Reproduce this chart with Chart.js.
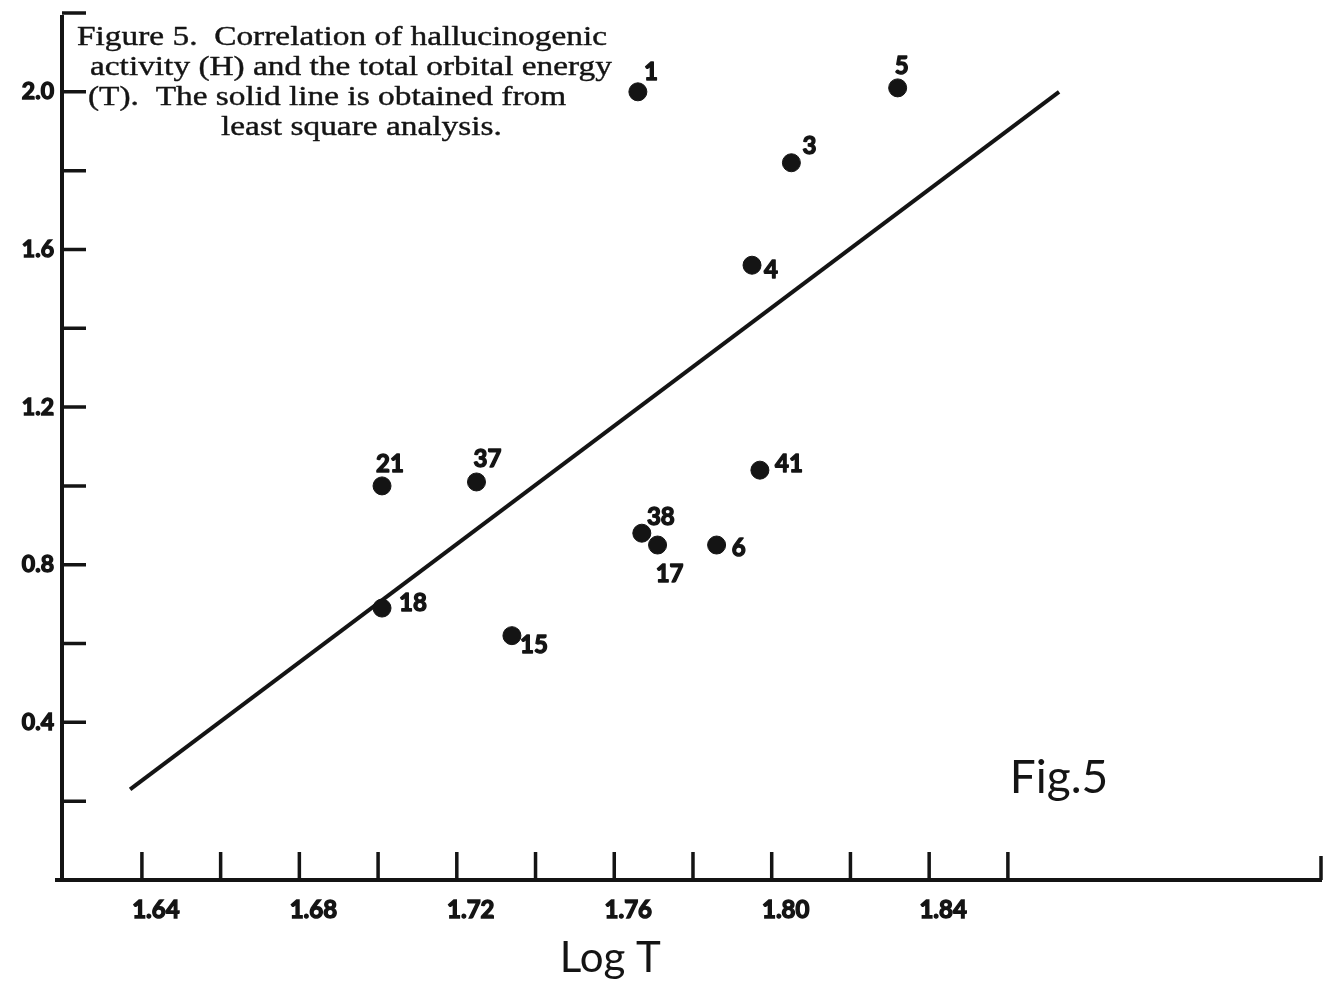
<!DOCTYPE html>
<html>
<head>
<meta charset="utf-8">
<title>Figure 5 - hallucinogenic activity vs. total orbital energy</title>
<script src="https://cdn.jsdelivr.net/npm/chart.js@4.4.1/dist/chart.umd.min.js"></script>
<style>
  html, body { margin: 0; padding: 0; background: #fff; }
  #wrap { width: 1332px; height: 989px; }
</style>
</head>
<body>
<div id="wrap"><canvas id="fig5" width="1332" height="989"></canvas></div>
<script>
// compound numbers with log T and activity H
const compounds = ['1', '5', '3', '4', '41', '21', '37', '38', '17', '6', '18', '15'];
const logT      = [1.766, 1.832, 1.805, 1.795, 1.797, 1.701, 1.725, 1.767, 1.771, 1.786, 1.701, 1.734];
const activity  = [2.00, 2.01, 1.82, 1.56, 1.04, 1.00, 1.01, 0.88, 0.85, 0.85, 0.69, 0.62];

// least square line, its two end points
const fitLogT = [1.637, 1.873];
const fitH    = [0.23, 2.00];

const xTicks = [1.64, 1.66, 1.68, 1.70, 1.72, 1.74, 1.76, 1.78, 1.80, 1.82, 1.84, 1.86];
const xTickLabels = ['1.64', '1.68', '1.72', '1.76', '1.80', '1.84'];
const yTicks = [0.2, 0.4, 0.6, 0.8, 1.0, 1.2, 1.4, 1.6, 1.8, 2.0, 2.2];
const yTickLabels = ['0.4', '0.8', '1.2', '1.6', '2.0'];

const captionLines = [
  'Figure 5.  Correlation of hallucinogenic',
  'activity (H) and the total orbital energy',
  '(T).  The solid line is obtained from',
  'least square analysis.'
];

// pixel nudges for the compound numbers, same order as compounds
const labelOffsets = [[13, -21], [4, -23], [18, -18], [19, 4], [29, -7], [8, -23],
                      [11, -24], [19, -17], [12, 28], [22, 2], [31, -6], [22, 8]];

const INK = '#141414';
const SANS = 'Lato, "Open Sans", sans-serif';

const fmt2 = v => v.toFixed(2);
const fmt1 = v => v.toFixed(1);

// keep the plot box exactly where the layout padding puts it
const noScalePadding = s => {
  s.paddingTop = 0; s.paddingBottom = 0; s.paddingLeft = 0; s.paddingRight = 0;
};

const drawExtras = {
  id: 'drawExtras',
  afterDatasetsDraw(chart) {
    const { ctx, chartArea: a, scales: { x, y } } = chart;
    ctx.save();
    ctx.strokeStyle = INK;
    ctx.fillStyle = INK;
    ctx.lineCap = 'butt';

    // axes
    ctx.lineWidth = 4;
    ctx.beginPath();
    ctx.moveTo(a.left, y.getPixelForValue(2.2) + 2);
    ctx.lineTo(a.left, a.bottom + 2);
    ctx.moveTo(a.left - 7, a.bottom);
    ctx.lineTo(a.right, a.bottom);
    ctx.stroke();

    // inward ticks
    ctx.lineWidth = 3.5;
    ctx.beginPath();
    xTicks.forEach(v => {
      const px = x.getPixelForValue(v);
      ctx.moveTo(px, a.bottom);
      ctx.lineTo(px, a.bottom - 28);
    });
    ctx.moveTo(a.right - 1, a.bottom);
    ctx.lineTo(a.right - 1, a.bottom - 24);
    yTicks.forEach(v => {
      const py = y.getPixelForValue(v);
      ctx.moveTo(a.left, py);
      ctx.lineTo(a.left + 24, py);
    });
    ctx.stroke();

    // compound numbers, stroked a little to get the heavy stencil look
    ctx.font = 'bold 24px ' + SANS;
    ctx.textAlign = 'center';
    ctx.textBaseline = 'alphabetic';
    ctx.lineWidth = 1.4;
    ctx.lineJoin = 'round';
    const pts = chart.getDatasetMeta(1).data;
    pts.forEach((p, i) => {
      const [dx, dy] = labelOffsets[i];
      ctx.fillText(compounds[i], p.x + dx, p.y + dy + 9);
      ctx.strokeText(compounds[i], p.x + dx, p.y + dy + 9);
    });

    // axis title
    ctx.font = '42px ' + SANS;
    ctx.fillText('Log T', x.getPixelForValue(1.759), 972);

    // figure tag
    ctx.font = '46px ' + SANS;
    ctx.fillText('Fig.5', x.getPixelForValue(1.873), y.getPixelForValue(0.264) + 17);

    // caption, typewriter style serif squeezed to the original width
    ctx.font = '27px "Liberation Serif", "DejaVu Serif", serif';
    ctx.textAlign = 'left';
    ctx.lineWidth = 0.4;
    const sx = 530 / ctx.measureText(captionLines[0]).width;
    const starts = [77, 90, 88, 221];
    captionLines.forEach((t, i) => {
      ctx.save();
      ctx.translate(starts[i], 45 + i * 30);
      ctx.scale(sx, 1);
      ctx.fillText(t, 0, 0);
      ctx.strokeText(t, 0, 0);
      ctx.restore();
    });
    ctx.restore();
  }
};

new Chart(document.getElementById('fig5'), {
  type: 'scatter',
  data: {
    datasets: [
      {
        label: 'least square fit',
        data: fitLogT.map((v, i) => ({ x: v, y: fitH[i] })),
        showLine: true,
        borderColor: INK,
        borderWidth: 4,
        pointRadius: 0,
        order: 2
      },
      {
        label: 'compounds',
        data: logT.map((v, i) => ({ x: v, y: activity[i] })),
        backgroundColor: INK,
        borderColor: INK,
        pointRadius: 9,
        pointHoverRadius: 9,
        order: 1
      }
    ]
  },
  options: {
    responsive: false,
    animation: false,
    events: [],
    layout: { padding: { top: 13, right: 10, left: 0, bottom: 0 } },
    plugins: { legend: { display: false }, tooltip: { enabled: false }, title: { display: false } },
    scales: {
      x: {
        type: 'linear',
        min: 1.6197,
        max: 1.9398,
        grid: { display: false, drawTicks: false },
        border: { display: false },
        afterBuildTicks: s => { s.ticks = xTicks.map(v => ({ value: v })); },
        afterFit: s => { s.height = 109; noScalePadding(s); },
        ticks: {
          autoSkip: false,
          maxRotation: 0,
          padding: 16,
          labelOffset: 14,
          color: INK,
          textStrokeColor: INK,
          textStrokeWidth: 1.4,
          font: { family: SANS, weight: 'bold', size: 24 },
          callback: v => (xTickLabels.includes(fmt2(v)) ? fmt2(v) : '')
        }
      },
      y: {
        type: 'linear',
        min: 0,
        max: 2.2,
        grid: { display: false, drawTicks: false },
        border: { display: false },
        afterBuildTicks: s => { s.ticks = yTicks.map(v => ({ value: v })); },
        afterFit: s => { s.width = 62; noScalePadding(s); },
        ticks: {
          autoSkip: false,
          padding: 8,
          color: INK,
          textStrokeColor: INK,
          textStrokeWidth: 1.4,
          font: { family: SANS, weight: 'bold', size: 23 },
          callback: v => (yTickLabels.includes(fmt1(v)) ? fmt1(v) : '')
        }
      }
    }
  },
  plugins: [drawExtras]
});
</script>
</body>
</html>
